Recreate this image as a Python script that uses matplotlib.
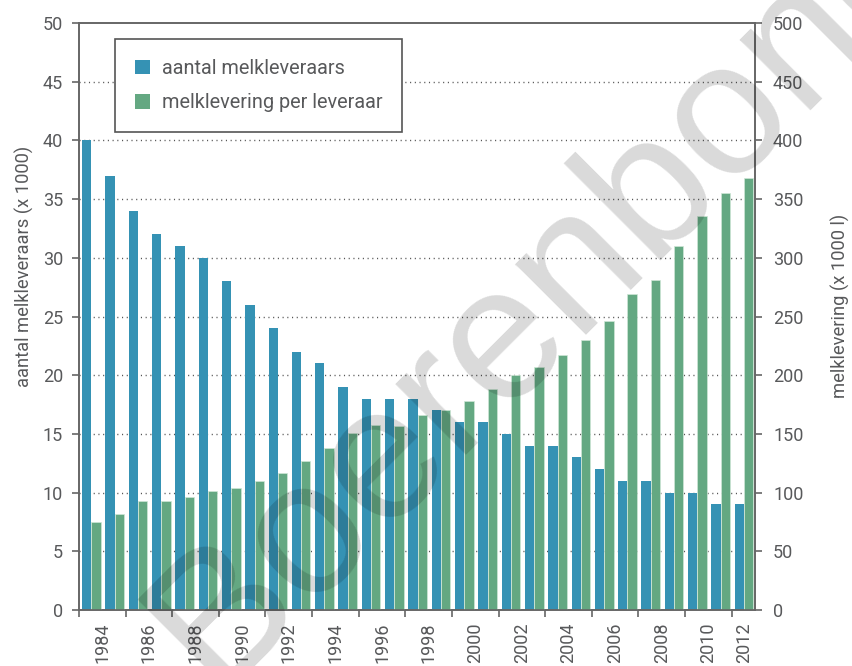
import numpy as np
import matplotlib
matplotlib.use("Agg")
import matplotlib.pyplot as plt
from matplotlib.patches import Patch

# data
years = list(range(1984, 2013))
leveraars = [40, 37, 34, 32, 31, 30, 28, 26, 24, 22, 21, 19, 18, 18, 18,
             17, 16, 16, 15, 14, 14, 13, 12, 11, 11, 10, 10, 9, 9]
levering = [75, 82, 93, 93, 96, 101, 104, 110, 117, 127, 138, 151, 158, 157, 166,
            170, 178, 188, 200, 207, 217, 230, 246, 269, 281, 310, 336, 355, 368]
labels = ["aantal melkleveraars", "melklevering per leveraar"]

blue = "#3592b4"
green = "#64a882"
grey = "#58595b"

plt.rcParams["font.family"] = ["Roboto", "DejaVu Sans"]

W, H = 853, 666
fig = plt.figure(figsize=(W / 100, H / 100), dpi=100)
ax = fig.add_axes([79 / W, 1 - 610 / H, (755 - 79) / W, (610 - 23) / H])
ax2 = ax.twinx()

x = np.arange(len(years))
ax.bar(x - 0.37, leveraars, width=0.4, align="edge", color=blue, zorder=2)
ax2.bar(x + 0.03, levering, width=0.4, align="edge", color=green,
        edgecolor="#cfe6d6", linewidth=0.5, zorder=2)

ax.set_xlim(-0.5, len(years) - 0.5)
ax.set_ylim(0, 50)
ax2.set_ylim(0, 500)
ax.set_yticks(np.arange(0, 51, 5))
ax2.set_yticks(np.arange(0, 501, 50))

# dotted grid
ax.set_axisbelow(True)
for v in np.arange(5, 50, 5):
    ax.axhline(v, color="#555555", linewidth=1.0, linestyle=(0, (0.8, 2.6)), zorder=0)

# x ticks on slot boundaries, labels in between
even = [i for i, y in enumerate(years) if y % 2 == 0]
ax.set_xticks([i - 0.5 for i in even])
ax.set_xticklabels([])
lab_pos = [i + 0.5 if i < len(years) - 1 else i + 0.05 for i in even]
ax.set_xticks(lab_pos, minor=True)
ax.set_xticklabels([str(years[i]) for i in even], minor=True, rotation=90)
ax.tick_params(axis="x", which="major", length=5, width=1.2, color="#666666", direction="out")
ax.tick_params(axis="x", which="minor", length=0, pad=9, labelsize=13, labelcolor=grey)

ax.tick_params(axis="y", length=5, width=1.2, color="#666666", pad=6.5,
               labelsize=13, labelcolor=grey)
ax2.tick_params(axis="y", length=5, width=1.2, color="#666666", pad=8,
                labelsize=13, labelcolor=grey)

for a in (ax, ax2):
    for s in a.spines.values():
        s.set_color("#666666")
        s.set_linewidth(1.2)

fig.text(24 / W, 1 - 266 / H, "aantal melkleveraars (x 1000)", rotation=90,
         ha="center", va="center", fontsize=13.2, color=grey)
fig.text(840 / W, 1 - 306 / H, "melklevering (x 1000 l)", rotation=90,
         ha="center", va="center", fontsize=13.2, color=grey)

handles = [Patch(facecolor=blue), Patch(facecolor=green)]
leg = ax2.legend(handles, labels, loc="upper left",
                 bbox_to_anchor=(115 / W, 1 - 39 / H), bbox_transform=fig.transFigure,
                 frameon=True, fancybox=False, edgecolor="#555555", framealpha=1,
                 fontsize=14.3, handlelength=0.76, handleheight=0.76, handletextpad=0.6,
                 labelspacing=0.78, borderpad=1.0, borderaxespad=0)
leg.get_frame().set_linewidth(1.2)
for t in leg.get_texts():
    t.set_color(grey)

# watermark
fig.text(580 / W, 1 - 325 / H, "Boerenbond", fontsize=137, family="Liberation Sans",
         color="black", alpha=0.15, rotation=45, rotation_mode="anchor",
         ha="center", va="baseline", zorder=10)

fig.savefig("out.png", dpi=100)
